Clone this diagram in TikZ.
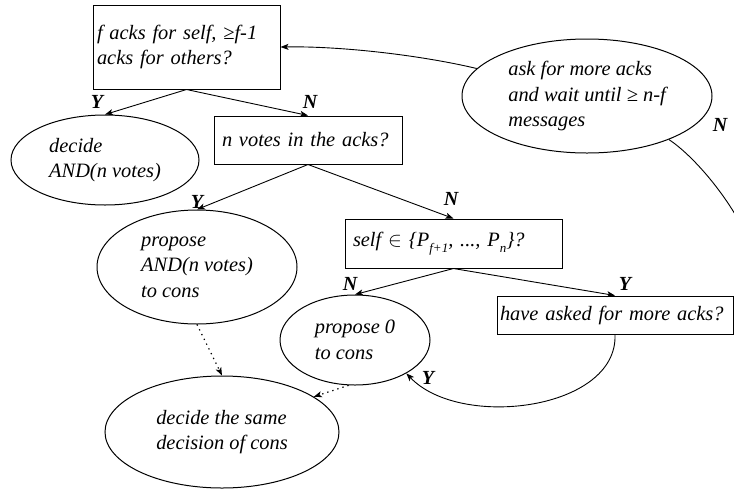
\documentclass[tikz,border=0pt]{standalone}
\usepackage{fontspec}
\setmainfont{Liberation Serif}
\usetikzlibrary{shapes.geometric,arrows.meta}
\begin{document}
\begin{tikzpicture}[x=1pt,y=-1pt,
  txt/.style={font=\fontsize{20.4}{25.5}\selectfont\itshape},
  box/.style={draw,rectangle,txt,align=left,inner xsep=8pt,inner ysep=0pt,line width=1pt},
  ell/.style={draw,ellipse,txt,align=left,inner sep=0pt,line width=1pt},
  lab/.style={font=\fontsize{20}{20}\selectfont\bfseries\itshape,inner sep=0pt},
  arr/.style={-{Stealth[length=8pt,width=6pt,inset=2pt]},line width=0.9pt},
  dotarr/.style={arr,dash pattern=on 1.3pt off 4pt,line width=1.2pt}
]
\useasboundingbox (0,0) rectangle (734,491);
\clip (0,0) rectangle (734,491);

\node[box,inner xsep=4pt,text width=179pt,minimum width=187pt,minimum height=84pt] (b1) at (186.5,47) {f acks for self, ≥f-1\\acks for others?};
\node[box,text width=172pt,minimum width=188pt,minimum height=48pt] (b2) at (308,140) {n votes in the acks?};
\node[box,text width=201pt,minimum width=217pt,minimum height=49pt] (b3) at (453.5,243.5) {self $\in$ \{P\raisebox{-6pt}{\fontsize{13}{13}\selectfont f+1},\ ..., P\raisebox{-6pt}{\fontsize{13}{13}\selectfont n}\}?};
\node[box,inner xsep=3pt,text width=230pt,minimum width=236pt,minimum height=38pt] (b4) at (615,315) {have asked for more acks?};

\node[ell,minimum width=250pt,minimum height=114pt] (ask) at (587,96) {ask for more acks\\and wait until ≥ n-f\\messages};
\node[ell,minimum width=188pt,minimum height=90pt] (dec) at (105,160) {decide\\AND(n votes)};
\node[ell,minimum width=200pt,minimum height=114pt] (pand) at (197,267) {propose\\AND(n votes)\\to cons};
\node[ell,minimum width=150pt,minimum height=90pt] (p0) at (355,340) {propose 0\\to cons};
\node[ell,minimum width=234pt,minimum height=112pt] (same) at (222,432) {decide the same\\decision of cons};

\draw[arr] (b1.south) -- (dec.north);
\draw[arr] (b1.south) -- (b2.north);
\draw[arr] (b2.south) -- (pand.north);
\draw[arr] (b2.south) -- (b3.north);
\draw[arr] (b3.south) -- (p0.north);
\draw[arr] (b3.south) -- (b4.north);
\draw[arr] (b4.south) .. controls (618,410) and (460,430) .. (p0.-33);
\draw[arr] (ask.166) .. controls (420,55) and (340,46) .. (b1.east);
\draw[line width=0.9pt] (ask.-28) .. controls (715,170) and (800,290) .. (b4.east);
\draw[dotarr] (pand.south) -- (same.north);
\draw[dotarr] (p0.262) -- (same.21);

\node[lab] (l1) at (97,102) {Y};
\node[lab] (l2) at (310,102) {N};
\node[lab] (l3) at (197,202) {Y};
\node[lab] (l4) at (451,199) {N};
\node[lab] (l5) at (350,284) {N};
\node[lab] (l6) at (625,284) {Y};
\node[lab] (l7) at (428,378) {Y};
\node[lab] (l8) at (720,125) {N};
\end{tikzpicture}
\end{document}
